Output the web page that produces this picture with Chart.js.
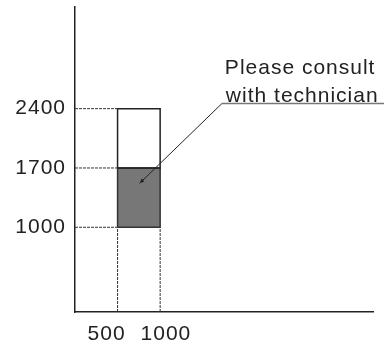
<!DOCTYPE html>
<html>
<head>
<meta charset="utf-8">
<script src="https://cdn.jsdelivr.net/npm/chart.js@4"></script>
<style>
  html, body { margin: 0; padding: 0; background: #fff; }
  #wrap { width: 384px; height: 348px; }
</style>
</head>
<body>
<div id="wrap"><canvas id="rangeChart" width="384" height="348"></canvas></div>
<script>
// axis ranges and tick labels
const xRange = [0, 3500];
const yRange = [0, 3600];
const xTicks = [500, 1000];
const yTicks = [1000, 1700, 2400];
// x labels sit pushed apart so they don't collide
const xTickText = {500: '500\u2003', 1000: '\u20021000'};

// the two stacked boxes (width range shared)
const widthRange = [500, 1000];
const lowerBand = [1000, 1700];
const upperBand = [1700, 2400];

// callout
const noteLines = ['Please consult', 'with technician'];
const noteTip = [760, 1520];
const noteElbow = [1725, 2460];

const FONT = '"Liberation Sans", Arial, sans-serif';

function box(xs, ys) {
  return [
    {x: xs[0], y: ys[0]}, {x: xs[1], y: ys[0]},
    {x: xs[1], y: ys[1]}, {x: xs[0], y: ys[1]}, {x: xs[0], y: ys[0]}
  ];
}

const guides = [];
yTicks.forEach(v => guides.push([{x: xRange[0], y: v}, {x: widthRange[0], y: v}]));
xTicks.forEach(v => guides.push([{x: v, y: yRange[0]}, {x: v, y: lowerBand[0]}]));

const datasets = [];
guides.forEach(g => datasets.push({
  data: g, borderColor: '#333', borderWidth: 1, borderDash: [3, 1],
  pointRadius: 0, fill: false
}));
datasets.push({
  data: box(widthRange, upperBand), borderColor: '#222', borderWidth: 1.5,
  backgroundColor: '#fff', fill: false, pointRadius: 0
});
datasets.push({
  data: box(widthRange, lowerBand), borderColor: '#333', borderWidth: 1.5,
  backgroundColor: '#777', fill: 'shape', pointRadius: 0
});
// faint diagonal through the grey box
datasets.push({
  data: [{x: widthRange[0], y: lowerBand[1]}, {x: widthRange[1], y: lowerBand[0]}],
  borderColor: '#b0b0b0', borderWidth: 1, pointRadius: 0, fill: false
});

const spacingPlugin = {
  id: 'spacing',
  beforeDraw(chart) { chart.ctx.letterSpacing = '1px'; }
};

const calloutPlugin = {
  id: 'callout',
  afterDraw(chart) {
    const {ctx, scales: {x, y}} = chart;
    const tx = x.getPixelForValue(noteTip[0]), ty = y.getPixelForValue(noteTip[1]);
    const ex = x.getPixelForValue(noteElbow[0]), ey = y.getPixelForValue(noteElbow[1]);
    ctx.save();
    ctx.strokeStyle = '#222';
    ctx.lineWidth = 1;
    ctx.beginPath();
    ctx.moveTo(ex, ey);
    ctx.lineTo(tx, ty);
    ctx.stroke();
    // small arrow head
    const a = Math.atan2(ty - ey, tx - ex);
    ctx.fillStyle = '#222';
    ctx.beginPath();
    ctx.moveTo(tx, ty);
    ctx.lineTo(tx - 5 * Math.cos(a - 0.4), ty - 5 * Math.sin(a - 0.4));
    ctx.lineTo(tx - 5 * Math.cos(a + 0.4), ty - 5 * Math.sin(a + 0.4));
    ctx.closePath();
    ctx.fill();
    // underline
    ctx.strokeStyle = '#777';
    ctx.lineWidth = 1.5;
    ctx.beginPath();
    ctx.moveTo(ex, ey);
    ctx.lineTo(chart.width, ey);
    ctx.stroke();
    ctx.fillStyle = '#222';
    ctx.font = '21px ' + FONT;
    ctx.letterSpacing = '1px';
    ctx.textAlign = 'left';
    ctx.textBaseline = 'alphabetic';
    ctx.fillText(noteLines[0], ex + 3, ey - 30);
    ctx.fillText(noteLines[1], ex + 4, ey - 2);
    ctx.restore();
  }
};

new Chart(document.getElementById('rangeChart'), {
  type: 'scatter',
  data: { datasets: datasets },
  options: {
    responsive: false,
    animation: false,
    showLine: true,
    layout: { padding: { top: 7, right: 11, left: 0, bottom: 0 } },
    plugins: { legend: { display: false }, tooltip: { enabled: false } },
    scales: {
      x: {
        type: 'linear', min: xRange[0], max: xRange[1],
        afterBuildTicks: s => { s.ticks = xTicks.map(v => ({value: v})); },
        afterFit: s => { s.height = 36; s.paddingLeft = 0; s.paddingRight = 0; },
        grid: { display: false, drawTicks: false },
        border: { color: '#222', width: 1.5 },
        ticks: {
          color: '#222', padding: 10, maxRotation: 0, autoSkip: false,
          font: { family: FONT, size: 21 },
          callback: v => xTickText[v]
        }
      },
      y: {
        type: 'linear', min: yRange[0], max: yRange[1],
        afterBuildTicks: s => { s.ticks = yTicks.map(v => ({value: v})); },
        afterFit: s => { s.width = 75; s.paddingTop = 0; s.paddingBottom = 0; },
        grid: { display: false, drawTicks: false },
        border: { color: '#222', width: 1.5 },
        ticks: {
          color: '#222', padding: 9, autoSkip: false,
          font: { family: FONT, size: 21 },
          callback: v => String(v)
        }
      }
    }
  },
  plugins: [spacingPlugin, calloutPlugin]
});
</script>
</body>
</html>
